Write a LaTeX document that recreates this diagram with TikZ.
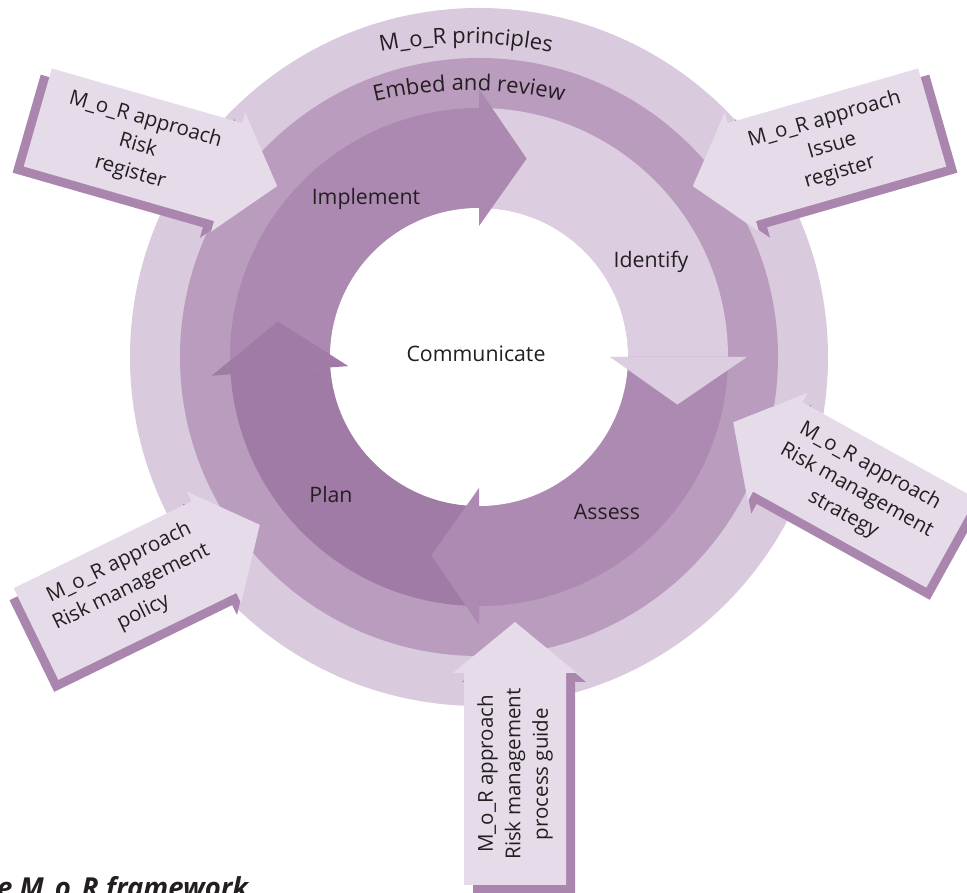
\documentclass[tikz,border=0pt]{standalone}
\usepackage{fontspec}
\setmainfont{Open Sans}
\usetikzlibrary{decorations.text}
\definecolor{ringA}{HTML}{D9CADD}
\definecolor{ringB}{HTML}{B99CBE}
\definecolor{implc}{HTML}{AC89B0}
\definecolor{identc}{HTML}{DCCDE0}
\definecolor{assesc}{HTML}{AD8AB1}
\definecolor{planc}{HTML}{A07BA5}
\definecolor{callfill}{HTML}{E6DCE9}
\definecolor{callshadow}{HTML}{AA86AE}
\definecolor{txt}{HTML}{231F20}
\newcommand\mrcallout[8]{%
  \begin{scope}[shift={(#2,#3)}, rotate=#4]
    \begin{scope}[xscale=#5]
      \fill[callshade] (-9,42) -- (#6-60,42) -- (#6-60,53) -- (#6-9,-9) -- (#6-60,-71) -- (#6-60,-60) -- (-9,-60) -- cycle;
      \fill[callbody] (0,51) -- (#6-51,51) -- (#6-51,62) -- (#6,0) -- (#6-51,-62) -- (#6-51,-51) -- (0,-51) -- cycle;
    \end{scope}
    \node[calltext] (#1) at (#7,0) {#8};
  \end{scope}}
\begin{document}
\begin{tikzpicture}[x=1pt,y=1pt,
  lbl/.style={font=\fontsize{21.3}{25}\selectfont, text=txt, inner sep=0pt},
  calltext/.style={font=\fontsize{20.5}{27.5}\selectfont, text=txt, align=center, inner sep=0pt, transform shape},
  callbody/.style={fill=callfill},
  callshade/.style={fill=callshadow},
  ringtext/.style={decorate, decoration={text along path, text align=center}}]
\useasboundingbox (0,0) rectangle (967,893);
\clip (0,0) rectangle (967,893);
\coordinate (C) at (479,536);
\begin{scope}[shift={(C)}]
  \fill[ringA] (0,0) circle[radius=349];
  \fill[ringB] (0,0) circle[radius=299];
  \foreach \s/\e/\c in {184/90/implc, 90/0/identc, 0/-90/assesc, 270/184/planc}
    \fill[\c] (\s:149) arc[start angle=\s, end angle=\e, radius=149] -- (\e:249) arc[start angle=\e, end angle=\s, radius=249] -- cycle;
  \fill[white] (0,0) circle[radius=149];
  \foreach \b/\t/\c in {90/76.5/implc, 0/-13.5/identc, -90/-103.5/assesc, 184/170/planc}
    \fill[\c] (\b:131) -- (\b:268) -- (\t:204) -- cycle;
\end{scope}
\path[shift={(466,419.5)}, ringtext, decoration={text={|\fontsize{22}{26}\selectfont\color{txt}|M{\_}o{\_}R principles}}] (120:430) arc[start angle=120, end angle=60, radius=430];
\path[shift={(469,402.5)}, ringtext, decoration={text={|\fontsize{22}{26}\selectfont\color{txt}|Embed and review}}] (120:400) arc[start angle=120, end angle=60, radius=400];
\node[lbl] (comm) at (476,539) {Communicate};
\node[lbl] (impl) at (366,694) {Implement};
\node[lbl] (iden) at (651,631) {Identify};
\node[lbl] (asse) at (607,381.5) {Assess};
\node[lbl] (plan) at (331,398) {Plan};
\mrcallout{cTL}{37.8}{775.5}{-16}{1}{249}{104}{M\_o\_R approach\\Risk\\register}
\mrcallout{cTR}{932.2}{775.5}{16}{-1}{249}{-104}{M\_o\_R approach\\Issue\\register}
\mrcallout{cR}{951}{350}{-29}{-1}{249}{-108}{M\_o\_R approach\\Risk management\\strategy}
\mrcallout{cBL}{36}{259}{26}{1}{249}{106}{M\_o\_R approach\\Risk management\\policy}
\mrcallout{cB}{515}{8}{90}{1}{263}{111}{M\_o\_R approach\\Risk management\\process guide}
\node[anchor=base west, font=\fontsize{27.5}{32}\selectfont\bfseries\itshape, text=txt, inner sep=0pt] (cap) at (-3,-5) {e M\_o\_R framework};
\end{tikzpicture}
\end{document}
